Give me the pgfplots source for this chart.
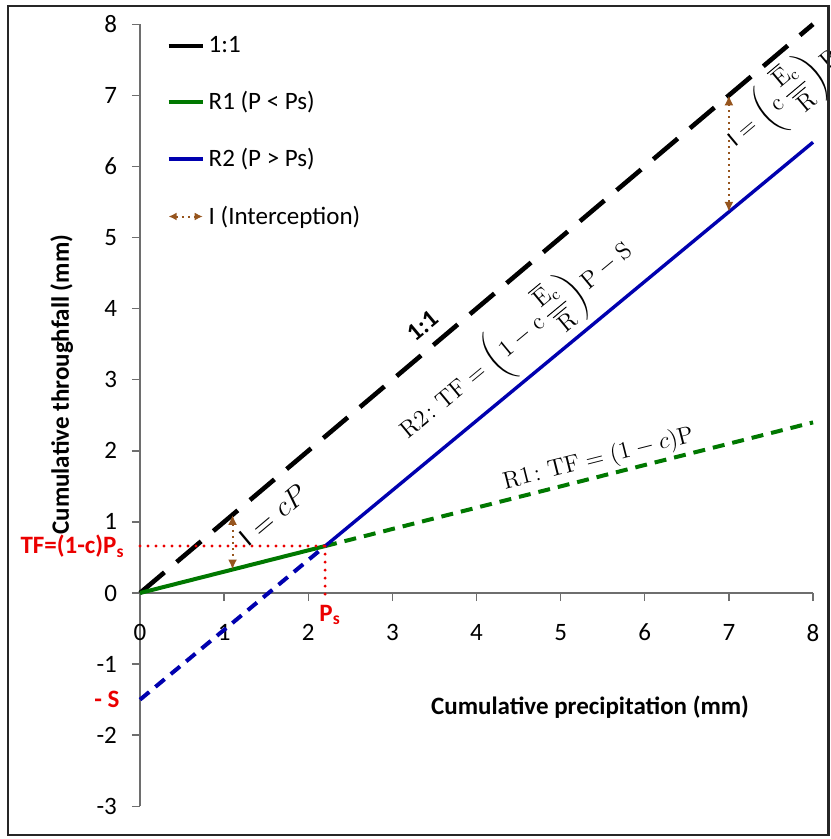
\documentclass[border=0pt]{standalone}
\usepackage{amsmath}
\usepackage{pgfplots}
\pgfplotsset{compat=1.18}
\usepackage[no-math]{fontspec}
\setmainfont{Carlito}
\usetikzlibrary{arrows.meta}
\definecolor{lgreen}{RGB}{0,120,0}
\definecolor{lblue}{RGB}{0,0,175}
\definecolor{lbrown}{RGB}{150,85,30}
\definecolor{lred}{RGB}{235,0,0}
\definecolor{axgray}{RGB}{110,110,110}
\begin{document}
\begin{tikzpicture}
\begin{axis}[
  scale only axis, width=336.5pt, height=391pt,
  xmin=0, xmax=8, ymin=-3, ymax=8,
  axis lines=middle, axis line style={-, axgray, line width=0.7pt},
  xtick={0,...,8}, ytick={-3,...,8},
  hide obscured x ticks=false, hide obscured y ticks=false,
  tick align=outside, major tick length=4pt,
  tick style={axgray, line width=0.7pt},
  /pgf/number format/assume math mode=true,
  x tick label style={font=\fontsize{12.5}{14}\selectfont, anchor=north, yshift=-8pt},
  y tick label style={font=\fontsize{12.5}{14}\selectfont, anchor=east, xshift=-4pt},
  clip=false,
  legend style={at={(axis cs:0.24,7.95)}, anchor=north west, draw=none, fill=none,
    font=\fontsize{12.5}{14}\selectfont, row sep=14pt, cells={anchor=west}},
  legend cell align=left,
]
\addlegendimage{black, line width=2pt}
\addlegendentry{1:1}
\addlegendimage{lgreen, line width=2pt}
\addlegendentry{R1 (P < Ps)}
\addlegendimage{lblue, line width=2pt}
\addlegendentry{R2 (P > Ps)}
\addlegendimage{lbrown, line width=1pt, dotted, {Latex[length=4pt,width=4pt]}-{Latex[length=4pt,width=4pt]}}
\addlegendentry{I (Interception)}

% 1:1 line
\addplot[forget plot, black, line width=2.3pt, dash pattern=on 16pt off 8pt] coordinates {(0,0) (8,8)};
% R1
\addplot[forget plot, lgreen, line width=2pt, dash pattern=on 6pt off 4pt] coordinates {(2.2,0.66) (8,2.4)};
\addplot[forget plot, lgreen, line width=2pt] coordinates {(0,0) (2.2,0.66)};
% R2
\addplot[forget plot, lblue, line width=2pt, dash pattern=on 6pt off 4pt] coordinates {(0,-1.5) (2.2,0.66)};
\addplot[forget plot, lblue, line width=1.7pt] coordinates {(2.2,0.66) (8,6.34)};
% red dotted guides
\addplot[forget plot, lred, line width=1.6pt, line cap=round, dash pattern=on 0pt off 4pt] coordinates {(0,0.66) (2.2,0.66)};
\addplot[forget plot, lred, line width=1.6pt, line cap=round, dash pattern=on 0pt off 4pt] coordinates {(2.2,0.66) (2.2,-0.1)};
% interception arrows
\addplot[forget plot, lbrown, line width=1pt, dotted, {Latex[length=5pt,width=4.5pt]}-{Latex[length=5pt,width=4.5pt]}] coordinates {(1.1,1.1) (1.1,0.33)};
\addplot[forget plot, lbrown, line width=1pt, dotted, {Latex[length=5pt,width=4.5pt]}-{Latex[length=5pt,width=4.5pt]}] coordinates {(7,7) (7,5.36)};

% text labels
\node[rotate=40, font=\bfseries\fontsize{12.5}{14}\selectfont] at (axis cs:3.36,3.76) {1:1};
\node[rotate=39.6, font=\fontsize{12}{14}\selectfont] at (axis cs:4.47,3.55)
  {$\mathrm{R2\colon TF}=\left(1-\mathrm{c}\,\dfrac{\overline{\mathrm{E}}_{\mathrm{c}}}{\overline{\mathrm{R}}}\right)\mathrm{P}-\mathrm{S}$};
\node[rotate=14.2, font=\fontsize{13}{15}\selectfont] at (axis cs:5.45,1.88) {$\mathrm{R1\colon TF}=(1-c)\mathrm{P}$};
\node[rotate=40, font=\fontsize{13.5}{15}\selectfont] at (axis cs:1.58,1.10) {$\textnormal{I}=cP$};
\node[rotate=40, font=\fontsize{11.5}{13}\selectfont] at (axis cs:7.64,6.96)
  {$\textnormal{I}=\left(\mathrm{c}\,\dfrac{\overline{\mathrm{E}}_{\mathrm{c}}}{\overline{\mathrm{R}}}\right)\mathrm{P}$};
\node[anchor=east, text=lred, font=\bfseries\fontsize{12.5}{14}\selectfont] at (axis cs:-0.1,0.66) {TF=(1-c)P\textsubscript{s}};
\node[text=lred, font=\bfseries\fontsize{12.5}{14}\selectfont] at (axis cs:2.26,-0.31) {P\textsubscript{s}};
\node[anchor=east, text=lred, font=\bfseries\fontsize{12.5}{14}\selectfont] at (axis cs:-0.16,-1.5) {- S};
\node[font=\bfseries\fontsize{12.5}{14}\selectfont] at (axis cs:5.35,-1.6) {Cumulative precipitation (mm)};
\node[rotate=90, font=\bfseries\fontsize{12.5}{14}\selectfont] at (axis cs:-0.93,2.93) {Cumulative throughfall (mm)};

% frame
\draw[line width=1.3pt, black!85] (axis cs:-1.569,-3.404) rectangle (axis cs:8.185,8.257);
\coordinate (bbsw) at (axis cs:-1.664,-3.46);
\coordinate (bbne) at (axis cs:8.202,8.341);
\end{axis}
\pgfresetboundingbox
\useasboundingbox (bbsw) rectangle (bbne);
\end{tikzpicture}
\end{document}
